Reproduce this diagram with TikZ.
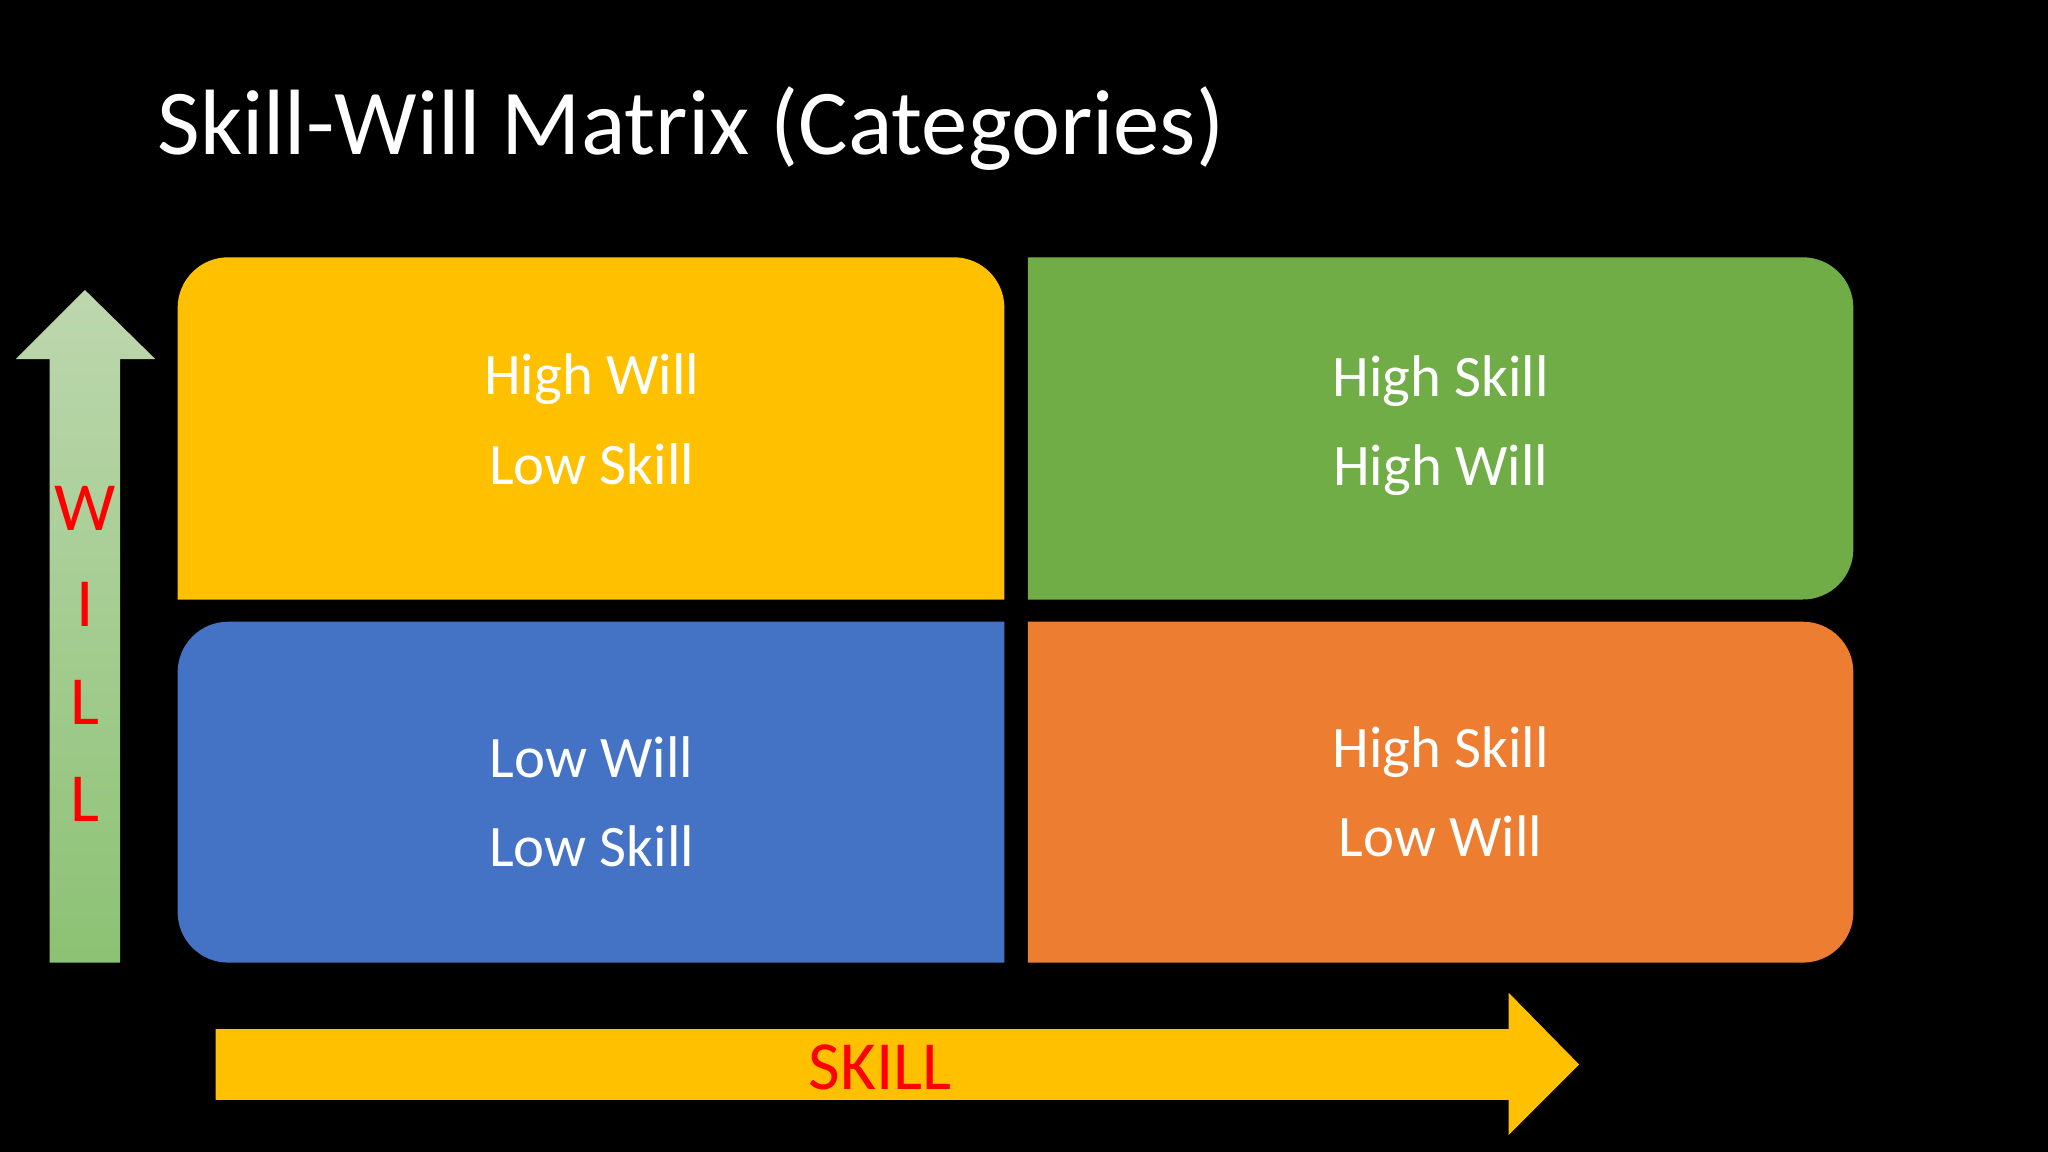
\documentclass[tikz,border=0pt]{standalone}
\usepackage{fontspec}
\setmainfont{Carlito}
\definecolor{cy}{HTML}{FFC000}
\definecolor{cg}{HTML}{70AD47}
\definecolor{cb}{HTML}{4472C4}
\definecolor{co}{HTML}{ED7D31}
\definecolor{gtop}{HTML}{BDD7AE}
\definecolor{gbot}{HTML}{8CC274}
\begin{document}
\begin{tikzpicture}[x=0.01cm,y=-0.01cm,
  boxtext/.style={text=white,font=\fontsize{12.8pt}{19.4pt}\selectfont,align=center},
  axtext/.style={text=red,font=\fontsize{15pt}{17pt}\selectfont}]
\fill[black] (0,0) rectangle (1568,882);
\useasboundingbox (0,0) rectangle (1568,882);
\node[anchor=base west,inner sep=0pt,text=white,font=\fontsize{20.2pt}{24pt}\selectfont] (title) at (120,118) {Skill-Will Matrix (Categories)};
% boxes
\fill[cy] (136,459) [rounded corners=11pt] |- (769,197) [sharp corners] -- (769,459) -- cycle;
\fill[cg] (787,197) [rounded corners=11pt] -| (1419,459) [sharp corners] -- (787,459) -- cycle;
\fill[cb] (769,737) [rounded corners=11pt] -| (136,476) [sharp corners] -- (769,476) -- cycle;
\fill[co] (787,737) [rounded corners=11pt] -| (1419,476) [sharp corners] -- (787,476) -- cycle;
\node[boxtext] (q1) at (453,321) {High Will\\Low Skill};
\node[boxtext] (q2) at (1103,326) {High Skill\\High Will};
\node[boxtext] (q3) at (453,614) {Low Will\\Low Skill};
\node[boxtext] (q4) at (1103,606) {High Skill\\Low Will};
% will arrow
\shade[top color=gtop,bottom color=gbot] (38,737) -- (38,275) -- (12,275) -- (65,222) -- (119,275) -- (92,275) -- (92,737) -- cycle;
\node[axtext] (w1) at (65,389) {W};
\node[axtext] (w2) at (65,463) {I};
\node[axtext] (w3) at (65,538) {L};
\node[axtext] (w4) at (65,612) {L};
% skill arrow
\fill[cy] (165,788) -- (1155,788) -- (1155,760) -- (1209,815) -- (1155,869) -- (1155,842) -- (165,842) -- cycle;
\node[axtext] (skill) at (674,817) {SKILL};
\end{tikzpicture}
\end{document}
